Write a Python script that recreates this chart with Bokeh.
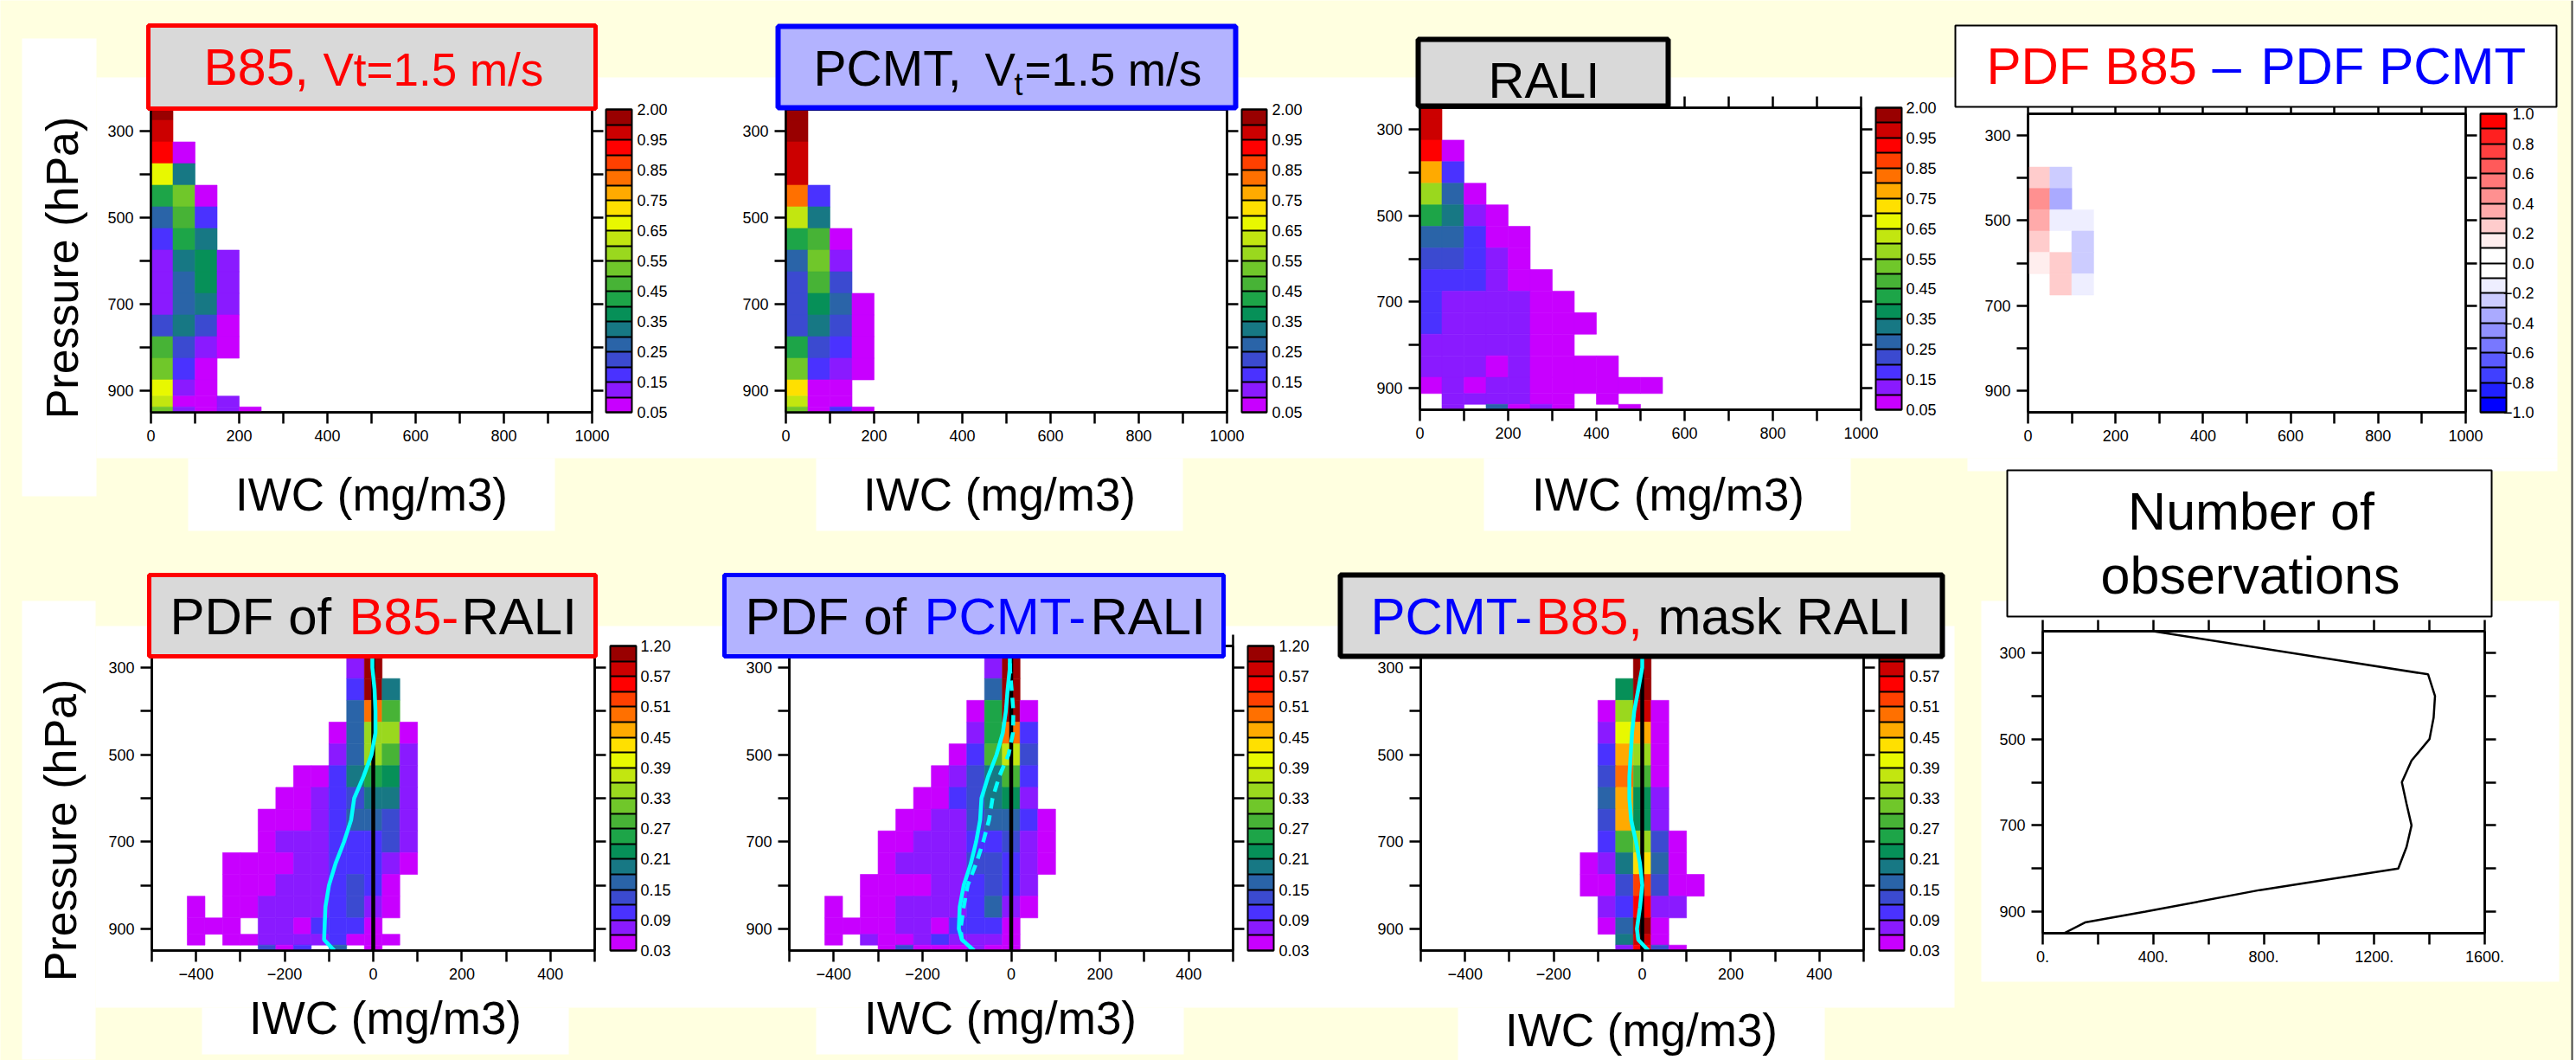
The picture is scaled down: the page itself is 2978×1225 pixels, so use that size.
import math
import numpy as np
from bokeh.embed import file_html
from bokeh.resources import INLINE
from bokeh.plotting import figure
from bokeh.models import (Range1d, LinearAxis, FixedTicker, Label, BoxAnnotation, ColorBar,
                          LinearColorMapper, ColumnDataSource)

_ = None
# ---------- pressure rows (hPa) ----------
P_EDGES = [250, 275, 325, 375, 425, 475, 525, 575, 625, 675, 725, 775, 825, 875, 912.5, 937.5, 950]
X_EDGES_ABS = list(range(0, 601, 50))
X_EDGES_DIF = list(range(-420, 141, 40))

# ---------- colour classes ----------
LEVELS_ABS = [.05,.10,.15,.20,.25,.30,.35,.40,.45,.50,.55,.60,.65,.70,.75,.80,.85,.90,.95,1.0,2.0]
LABELS_ABS = ["0.05","0.15","0.25","0.35","0.45","0.55","0.65","0.75","0.85","0.95","2.00"]
LEVELS_DIF = [.03,.06,.09,.12,.15,.18,.21,.24,.27,.30,.33,.36,.39,.42,.45,.48,.51,.54,.57,.60,1.2]
LABELS_DIF = ["0.03","0.09","0.15","0.21","0.27","0.33","0.39","0.45","0.51","0.57","1.20"]
LEVELS_RB = [-1,-.9,-.8,-.7,-.6,-.5,-.4,-.3,-.2,-.1,0,.1,.2,.3,.4,.5,.6,.7,.8,.9,1]
LABELS_RB = ["\u22121.0","\u22120.8","\u22120.6","\u22120.4","\u22120.2","0.0","0.2","0.4","0.6","0.8","1.0"]
PAL_RAINBOW = ["#C800FF","#8A1AFF","#4A32FF","#3B4AD0","#2A64A8","#177884","#069058","#1DA548","#47B336","#70C72A",
               "#9AD81E","#C2E610","#E8F800","#FFE000","#FFAA00","#FF7000","#FF4000","#FF0000","#CC0000","#990000"]
PAL_RB = ["#0000FF","#2020FF","#4040FF","#5A5AFF","#7878FF","#9090FF","#AAAAFF","#CCCCFF","#EEEEFF","#FFFFFF",
          "#FFFFFF","#FFEEEE","#FFCCCC","#FFAAAA","#FF9090","#FF7878","#FF5A5A","#FF4040","#FF2020","#FF0000"]

# ---------- PDF values by pressure row, then IWC bin ----------
B85 = [[1.5],[.97],[.92,.07],[.67,.32],[.42,.52,.07],[.27,.47,.17],[.17,.42,.32],[.12,.32,.37,.12],
       [.12,.27,.37,.12],[.12,.27,.32,.12],[.22,.32,.22,.07],[.47,.22,.12,.07],[.52,.17,.07],
       [.67,.12,.07],[.62,.07,.07,.12],[.52,.12,.07,.12,.07]]
PCMT = [[1.5],[1.5],[.97],[.97],[.82,.17],[.62,.32],[.42,.47,.07],[.27,.52,.12],[.22,.47,.22],
        [.22,.37,.27,.07],[.22,.32,.22,.07],[.42,.22,.17,.07],[.52,.17,.12,.07],[.72,.07,.07],
        [.62,.07,.07],[.52,.07,.17,.07]]
RALI = [[.97],[.97],[.92,.07],[.77,.17],[.57,.27,.07],[.42,.32,.12,.07],[.27,.27,.17,.07,.07],
        [.22,.22,.17,.12,.07],[.17,.17,.17,.12,.07,.07],[.17,.12,.12,.12,.12,.07,.07],
        [.17,.12,.12,.12,.12,.07,.07,.07],[.12,.12,.12,.12,.12,.07,.07],
        [.12,.12,.12,.07,.12,.07,.07,.07,.07],[.07,.12,.07,.12,.12,.07,.07,.07,.07,.07,.07],
        [_,.12,.12,.12,.12,.07,.07,_,.07],[_,.12,_,.27,.07,.12,.07,_,_,.07]]
DIFF = [[],[],[],[.25,-.25],[.45,-.35],[.35,-.15,-.15],[.25,.05,-.25],[.15,.25,-.25],[_,.25,-.15],
        [],[],[],[],[],[],[]]
B85_RALI = [[_]*9+[.07,.9],[_]*9+[.07,.9],[_]*9+[.10,.9,.19],[_]*9+[.16,.49,.28],
            [_]*8+[.04,.16,.34,.34,.04],[_]*8+[.07,.16,.34,.28,.07],
            [_]*6+[.04,.04,.10,.19,.25,.22,.07],[_]*5+[.04,.04,.07,.10,.13,.19,.19,.07],
            [_]*4+[.04,.04,.04,.07,.10,.16,.16,.13,.07],[_]*4+[.04,.07,.07,.07,.10,.10,.10,.13,.07],
            [_]*2+[.04,.04,.04,.04,.07,.07,.10,.10,.10,.07,.04],[_]*2+[.04,.04,.04,.07,.07,.07,.10,.13,.10,.04],
            [.04,_,.04,.04,.07,.07,.07,.07,.10,.13,.07,.04],[.04,.04,.04,_,.07,.07,.04,.10,.10,.10,.04],
            [.04,_,.04,.04,.07,.07,.07,.07,.10,.04,.04,.04],[_,_,_,_,.13,.04,.10,_,.16,_,.04]]
PCMT_RALI = [[_]*9+[.07,.9],[_]*9+[.07,.9],[_]*9+[.16,.9],[_]*8+[.04,.25,.9,.04],[_]*8+[.07,.25,.49,.10],
             [_]*7+[.04,.10,.28,.37,.13],[_]*6+[.04,.07,.13,.19,.28,.10],[_]*5+[.04,.04,.10,.13,.19,.22,.07],
             [_]*4+[.04,.04,.07,.07,.13,.16,.16,.10,.04],[_]*3+[.04,.04,.07,.07,.07,.10,.10,.13,.07,.04],
             [_]*3+[.04,.07,.07,.07,.07,.13,.13,.10,.07,.04],[_]*2+[.04,.04,.04,.04,.07,.07,.10,.13,.10,.07],
             [.04,_,.04,.04,.07,.07,.07,.07,.10,.16,.07,.04],[.04,.04,.04,.04,.07,.07,.04,.10,.10,.10,.04],
             [.04,_,.07,.04,.04,.07,.10,.07,.07,.07,.04],[_,_,_,.04,.13,.04,.04,.04,.07,.04,.04]]
PCMT_B85 = [[_]*10+[.9],[_]*10+[.9],[_]*9+[.22,.9],[_]*8+[.04,.34,.58,.04],[_]*8+[.07,.40,.46,.04],
            [_]*8+[.10,.46,.34,.04],[_]*8+[.13,.49,.28,.04],[_]*8+[.16,.46,.22,.07],[_]*8+[.13,.46,.22,.07],
            [_]*8+[.10,.28,.34,.13,.04],[_]*7+[.04,.07,.19,.43,.16,.04],[_]*7+[.04,.04,.13,.52,.13,.04,.04],
            [_]*8+[.07,.10,.55,.07,.07],[_]*8+[.04,.16,.9,.04],[_]*9+[.19,.58,.04],[_]*9+[.07,.55,.13,.04]]

# ---------- line profiles ----------
PROFILE_P = [250,300,350,400,450,500,550,600,650,700,750,800,850,900,925,950]
MEAN_B85_RALI = [-2,-2,3,5,5,-4,-22,-43,-50,-66,-85,-100,-108,-110,-111,-88]
MEAN_PCMT_RALI = [-3,-3,-8,-12,-19,-33,-52,-67,-70,-79,-91,-107,-116,-118,-111,-84]
MEAN_PCMT_RALI_DASH = [-3,-3,1,5,4,-6,-27,-42,-50,-63,-79,-98,-107,-114,-111,-84]
MEAN_PCMT_B85 = [0,0,-9,-18,-23,-26,-29,-29,-25,-14,-5,0,-5,-12,-9,14]
OBS_P = [250,350,400,450,500,550,600,650,700,750,800,850,900,925,950]
OBS_N = [400,1395,1420,1415,1400,1335,1300,1317,1335,1317,1287,785,372,153,77]

# ---------- axis tick values ----------
P_TICKS = [300,400,500,600,700,800,900]
P_LABELS = {300:"300",400:"",500:"500",600:"",700:"700",800:"",900:"900"}
X_TICKS_ABS = list(range(0,1001,100))
X_LABELS_ABS = {t:(str(t) if t%200==0 else "") for t in X_TICKS_ABS}
X_TICKS_DIF = list(range(-500,501,100))
X_LABELS_DIF = {t:((str(t).replace("-","\u2212")) if t%200==0 else "") for t in X_TICKS_DIF}
X_TICKS_OBS = list(range(0,1601,200))
X_LABELS_OBS = {t:(f"{t}." if t%400==0 else "") for t in X_TICKS_OBS}

YEL = "#FFFFE0"; GRAY = "#D9D9D9"; LBLUE = "#B3B3FF"; FONT = "Liberation Sans"
RED = "#FF0000"; BLUE = "#0000FF"; BLK = "#000000"; WHT = "#FFFFFF"
PW, PH = 2978, 1225
BASE_SHIFT = 0.36


def sheet(fill, alpha):
    s = figure(width=PW, height=PH, output_backend="svg", toolbar_location=None, tools="",
               x_range=Range1d(0, PW), y_range=Range1d(PH, 0), x_axis_type=None, y_axis_type=None,
               min_border=0, border_fill_color=fill, border_fill_alpha=alpha,
               background_fill_color=fill, background_fill_alpha=alpha, outline_line_color=None,
               styles={"position":"absolute","left":"0px","top":"0px"})
    s.grid.visible = False
    return s


BG = sheet(YEL, 1.0)      # page colour and white patches
FG = sheet(WHT, 0.0)      # title boxes and all free text


def box(sh, x0, y0, x1, y1, fill, line=None, lw=0):
    sh.add_layout(BoxAnnotation(left=x0, right=x1, top=y0, bottom=y1, fill_color=fill, fill_alpha=1,
                                line_color=line, line_alpha=1, line_width=lw, level="overlay"))


def text(px, py, s, size, color=BLK, align="left", baseline="alphabetic", angle=0):
    if baseline == "alphabetic":
        if angle:
            px -= BASE_SHIFT*size
        else:
            py -= BASE_SHIFT*size
    FG.add_layout(Label(x=px, y=py, text=s, text_font=FONT, text_font_size=f"{size}px", text_color=color,
                        text_align=align, text_baseline=baseline, angle=angle, angle_units="rad", level="overlay"))


class Cell:
    def __init__(self, cell, frame, xr, xticks, xlabels):
        self.cx0, self.cy0, self.cx1, self.cy1 = cell
        self.fx0, self.fy0, self.fx1, self.fy1 = frame
        p = figure(width=self.cx1-self.cx0, height=self.cy1-self.cy0, output_backend="svg", toolbar_location=None,
                   x_range=Range1d(*xr), y_range=Range1d(950,250), tools="",
                   min_border_left=self.fx0-self.cx0, min_border_right=self.cx1-self.fx1,
                   min_border_top=self.fy0-self.cy0, min_border_bottom=self.cy1-self.fy1,
                   border_fill_color=WHT, border_fill_alpha=0, background_fill_color=WHT, background_fill_alpha=0,
                   outline_line_color=BLK, outline_line_width=2.5,
                   styles={"position":"absolute","left":f"{self.cx0}px","top":f"{self.cy0}px"})
        p.grid.visible = False
        self.p = p
        top = LinearAxis(); right = LinearAxis()
        p.add_layout(top, "above"); p.add_layout(right, "right")
        for ax, ticks, labs in [(p.below[0], xticks, xlabels), (p.left[0], P_TICKS, P_LABELS),
                                (top, xticks, {t:"" for t in xticks}), (right, P_TICKS, {t:"" for t in P_TICKS})]:
            ax.ticker = FixedTicker(ticks=ticks)
            ax.major_label_overrides = labs
            ax.major_tick_in = 0; ax.major_tick_out = 13
            ax.minor_tick_line_color = None
            ax.major_tick_line_color = BLK; ax.major_tick_line_width = 2.5
            ax.axis_line_color = BLK; ax.axis_line_width = 2.5
            ax.major_label_text_font = FONT; ax.major_label_text_font_size = "18px"
            ax.major_label_text_color = BLK
            ax.major_label_standoff = 7

    def cells(self, rows, edges, levels, palette):
        L, R, T, B, K = [], [], [], [], []
        for i, vals in enumerate(rows):
            for j, v in enumerate(vals):
                if v is None:
                    continue
                L.append(edges[j]); R.append(edges[j+1]); T.append(P_EDGES[i]); B.append(P_EDGES[i+1])
                K.append(int(np.digitize(v, levels))-1+0.5)
        mapper = LinearColorMapper(palette=palette, low=0, high=20)
        self.p.quad(left="l", right="r", top="t", bottom="b",
                    source=ColumnDataSource(dict(l=L, r=R, t=T, b=B, k=K)),
                    fill_color={"field":"k","transform":mapper},
                    line_color={"field":"k","transform":mapper}, line_width=0.6)

    def colorbar(self, x0, x1, y0, y1, palette, labels, lx, align="left", skip_top=False):
        mapper = LinearColorMapper(palette=palette, low=0, high=20)
        t = list(range(21))
        cb = ColorBar(color_mapper=mapper, ticker=FixedTicker(ticks=t), major_label_overrides={i:"" for i in t},
                      width=x1-x0, height=y1-y0, location=(x0-self.fx0, self.fy1-y1), padding=0, margin=0,
                      major_tick_in=x1-x0, major_tick_out=0, major_tick_line_color=BLK, major_tick_line_width=2,
                      minor_tick_line_color=None, bar_line_color=BLK, bar_line_width=2, border_line_color=None,
                      background_fill_alpha=0, major_label_text_font_size="1px", label_standoff=0)
        self.p.add_layout(cb, "center")
        for i, s in enumerate(labels):
            if skip_top and i == len(labels)-1:
                continue
            text(lx, y1-(y1-y0)*i/(len(labels)-1), s, 18, align=align, baseline="middle")


PIV2 = math.pi/2
C1 = (0,0,810,640); C2 = (810,0,1530,640); C3 = (1530,0,2250,640)
C5 = (0,640,810,1225); C6 = (810,640,1530,1225); C7 = (1530,640,2250,1225)
C4 = (2250,0,2978,530); C8 = (2250,530,2978,1225)

# ---- white backing patches and the page's right-hand rule
for x0, y0, x1, y1 in [(25,44,111,573),(111,89,2956,529),(217,529,641,613),(943,529,1367,613),(1715,529,2139,613),
                       (2274,529,2956,544),(25,694,110,1224),(110,723,2259,1164),(233,1164,657,1218),
                       (943,1164,1368,1218),(1685,1164,2109,1225),(2290,694,2958,1134),(2974,0,2978,1225)]:
    box(BG, x0, y0, x1, y1, WHT)
box(BG, 2972, 0, 2974, 1225, "#444444")

# ---- panel 1: B85
a = Cell(C1,(174,126,684,476),(0,1000),X_TICKS_ABS,X_LABELS_ABS)
a.cells(B85,X_EDGES_ABS,LEVELS_ABS,PAL_RAINBOW)
a.colorbar(700,730,126,476,PAL_RAINBOW,LABELS_ABS,736)
box(FG,171,29,688,125,GRAY,RED,5)
text(235,99,"B85,",59,RED); text(373,99,"Vt=1.5 m/s",53,RED)
text(429,590,"IWC (mg/m3)",53,align="center")
text(90,309,"Pressure (hPa)",52,align="center",angle=PIV2)

# ---- panel 2: PCMT
b = Cell(C2,(908,126,1418,476),(0,1000),X_TICKS_ABS,X_LABELS_ABS)
b.cells(PCMT,X_EDGES_ABS,LEVELS_ABS,PAL_RAINBOW)
b.colorbar(1435,1464,126,476,PAL_RAINBOW,LABELS_ABS,1470)
box(FG,899,30,1428,124,LBLUE,BLUE,6)
text(940,99,"PCMT,",57); text(1138,99,"V",53); text(1172,110,"t",36); text(1184,99,"=1.5 m/s",53)
text(1155,590,"IWC (mg/m3)",53,align="center")

# ---- panel 3: RALI
c = Cell(C3,(1641,124,2151,473),(0,1000),X_TICKS_ABS,X_LABELS_ABS)
c.cells(RALI,X_EDGES_ABS,LEVELS_ABS,PAL_RAINBOW)
c.colorbar(2168,2198,124,473,PAL_RAINBOW,LABELS_ABS,2203)
box(FG,1639,45,1928,122,GRAY,BLK,6)
text(1720,113,"RALI",58)
text(1928,590,"IWC (mg/m3)",53,align="center")

# ---- panel 4: difference
d = Cell(C4,(2344,131,2850,476),(0,1000),X_TICKS_ABS,X_LABELS_ABS)
d.cells(DIFF,X_EDGES_ABS,LEVELS_RB,PAL_RB)
d.colorbar(2867,2897,131,476,PAL_RB,LABELS_RB,2929,align="right")
box(FG,2260,29,2955,123,WHT,BLK,2)
text(2296,98,"PDF B85",60,RED); text(2557,98,"\u2013",60,BLUE); text(2613,98,"PDF PCMT",60,BLUE)

# ---- panel 5: B85-RALI
e = Cell(C5,(175,746,687,1098),(-500,500),X_TICKS_DIF,X_LABELS_DIF)
e.cells(B85_RALI,X_EDGES_DIF,LEVELS_DIF,PAL_RAINBOW)
e.p.line([0,0],[250,950],line_color=BLK,line_width=4.5)
e.p.line(MEAN_B85_RALI,PROFILE_P,line_color="#00FFFF",line_width=4.5)
e.colorbar(705,735,746,1098,PAL_RAINBOW,LABELS_DIF,740)
box(FG,172,664,688,758,GRAY,RED,5)
text(196,734,"PDF of",60); text(403,734,"B85-",60,RED); text(533,734,"RALI",60)
text(445,1195,"IWC (mg/m3)",53,align="center")
text(88,959,"Pressure (hPa)",52,align="center",angle=PIV2)

# ---- panel 6: PCMT-RALI
f = Cell(C6,(912,746,1425,1098),(-500,500),X_TICKS_DIF,X_LABELS_DIF)
f.cells(PCMT_RALI,X_EDGES_DIF,LEVELS_DIF,PAL_RAINBOW)
f.p.line([0,0],[250,950],line_color=BLK,line_width=4.5)
f.p.line(MEAN_PCMT_RALI_DASH,PROFILE_P,line_color="#00FFFF",line_width=4.5,line_dash="12 8")
f.p.line(MEAN_PCMT_RALI,PROFILE_P,line_color="#00FFFF",line_width=4.5)
f.colorbar(1442,1472,746,1098,PAL_RAINBOW,LABELS_DIF,1478)
box(FG,837,664,1414,758,LBLUE,BLUE,5)
text(861,734,"PDF of",60); text(1068,734,"PCMT-",60,BLUE); text(1260,734,"RALI",60)
text(1156,1195,"IWC (mg/m3)",53,align="center")

# ---- panel 7: PCMT-B85
g = Cell(C7,(1642,746,2154,1098),(-500,500),X_TICKS_DIF,X_LABELS_DIF)
g.cells(PCMT_B85,X_EDGES_DIF,LEVELS_DIF,PAL_RAINBOW)
g.p.line([0,0],[250,950],line_color=BLK,line_width=4.5)
g.p.line(MEAN_PCMT_B85,PROFILE_P,line_color="#00FFFF",line_width=4.5)
g.colorbar(2172,2201,746,1098,PAL_RAINBOW,LABELS_DIF,2207,skip_top=True)
box(FG,1549,664,2245,758,GRAY,BLK,6)
text(1584,734,"PCMT-",60,BLUE); text(1775,734,"B85,",60,RED); text(1916,734,"mask RALI",60)
text(1897,1209,"IWC (mg/m3)",53,align="center")

# ---- panel 8: observations
h = Cell(C8,(2361,729,2872,1078),(0,1600),X_TICKS_OBS,X_LABELS_OBS)
h.p.line(OBS_N,OBS_P,line_color=BLK,line_width=2.5)
box(FG,2320,543,2880,712,WHT,BLK,2)
text(2602,612,"Number of",61,align="center"); text(2601,686,"observations",61,align="center")

roots = [BG, a.p, b.p, c.p, d.p, e.p, f.p, g.p, h.p, FG]
open("out.html","w").write(file_html(roots, INLINE))
